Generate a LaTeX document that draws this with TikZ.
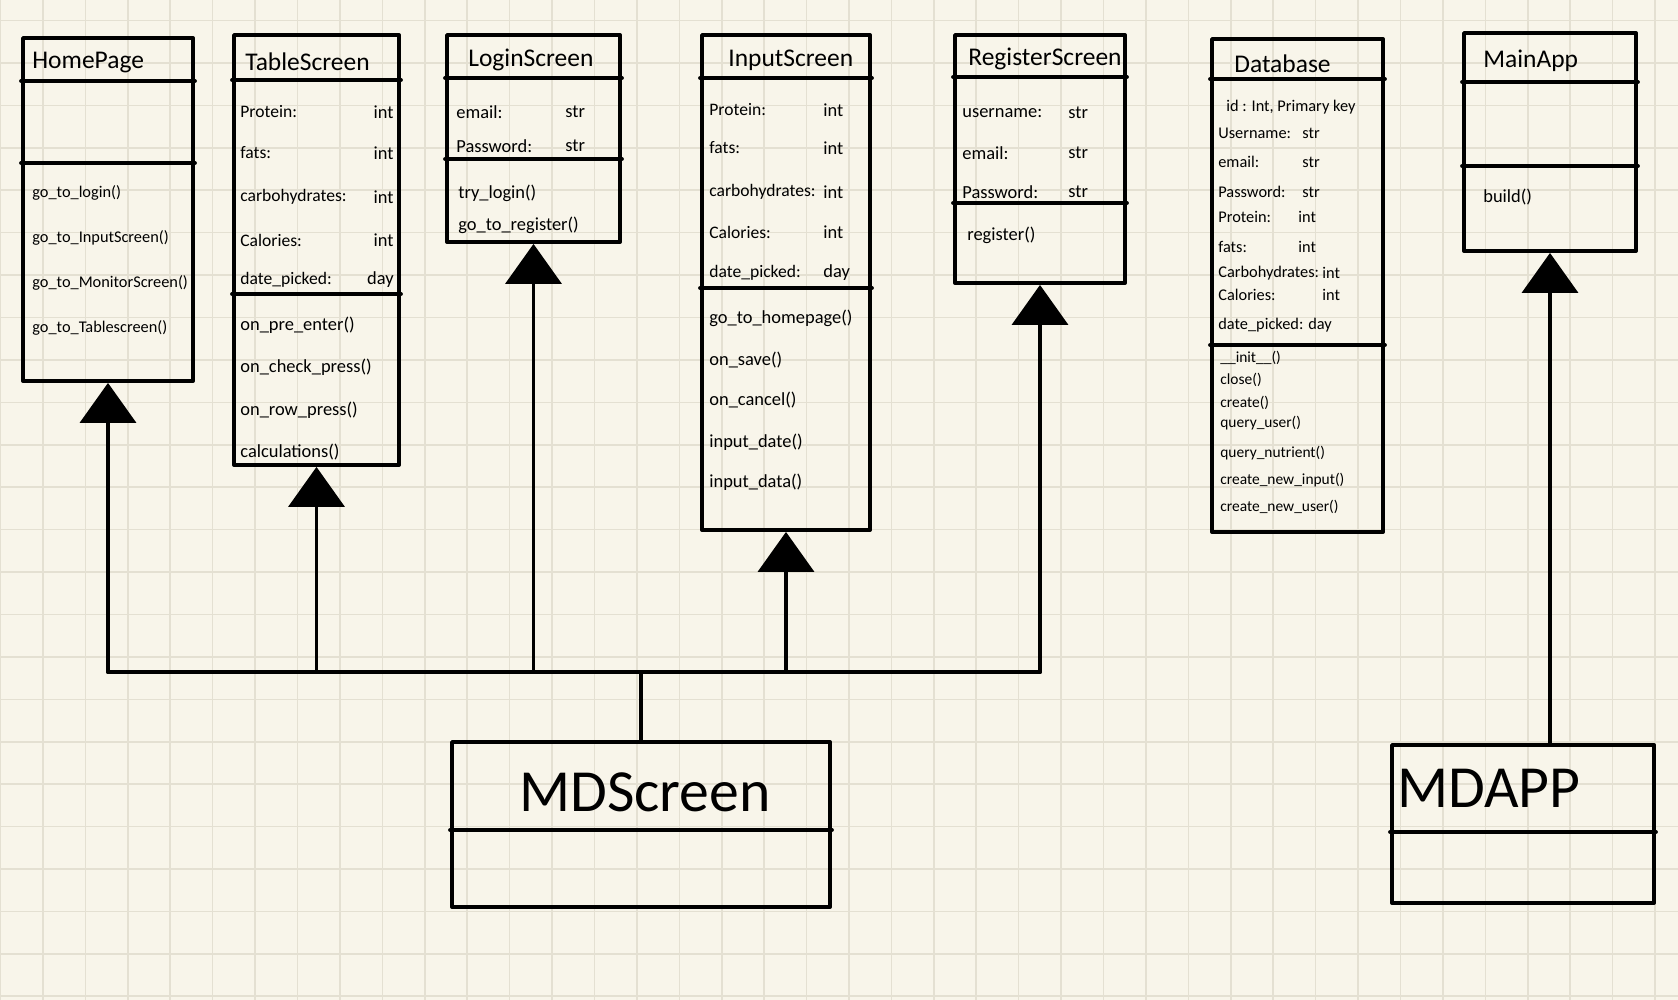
\documentclass[tikz,border=0pt]{standalone}
\usepackage{fontspec}
\setmainfont{Carlito}
\usetikzlibrary{arrows.meta,fit}
\definecolor{paper}{RGB}{248,245,234}
\definecolor{gridc}{RGB}{228,224,210}
\begin{document}
\begin{tikzpicture}[x=0.02cm, y=-0.02cm, line join=round, line cap=round,
	font=\fontsize{10.5}{12}\selectfont,
	cls/.style={draw, line width=2.2pt, inner sep=0pt},
	link/.style={line width=2.2pt},
	inh/.style={link, -{Triangle[width=1.12cm, length=0.8cm]}},
	ttl/.style={anchor=west, inner sep=0pt, font=\fontsize{14.5}{16}\selectfont},
	fld/.style={anchor=west, inner sep=0pt},
	nrw/.style={fld, font=\fontsize{10}{12}\selectfont},
	sml/.style={fld, font=\fontsize{9.3}{10}\selectfont},
	tiny/.style={fld, font=\fontsize{8.8}{10}\selectfont}]
	\fill[paper] (0,0) rectangle (1678,1000);
	\useasboundingbox (0,0) rectangle (1678,1000);
	\foreach \i in {0,...,39}
	\draw[gridc, line width=0.9pt] ({0.6+42.42*\i},0) -- ({0.6+42.42*\i},1000);
	\foreach \j in {0,...,23}
	\draw[gridc, line width=0.9pt] (0,{20.6+42.42*\j}) -- (1678,{20.6+42.42*\j});
	\node[cls, fit={(23,38)(193,381)}] (home) {};
	\node[cls, fit={(234,35)(399,465)}] (table) {};
	\node[cls, fit={(447,35)(620,242)}] (login) {};
	\node[cls, fit={(702,35)(870,530)}] (input) {};
	\node[cls, fit={(955,35)(1125,283)}] (register) {};
	\node[cls, fit={(1212,39)(1383,532)}] (db) {};
	\node[cls, fit={(1464,33)(1636,251)}] (mainapp) {};
	\node[cls, fit={(452,742)(830,907)}] (mdscreen) {};
	\node[cls, fit={(1392,745)(1654,903)}] (mdapp) {};
	\foreach \b/\y in {home/81, home/163, table/80, table/294, login/78, login/159, input/78, input/288, register/77, register/203, db/79, db/345, mainapp/82, mainapp/166, mdscreen/830, mdapp/832}
	\draw[link] (\b.west |- 0,\y) -- (\b.east |- 0,\y);
	\foreach \b/\x/\y/\t in {home/32/63/HomePage, table/245/62/TableScreen, login/468/60/LoginScreen, input/728/60/InputScreen, register/968/59/RegisterScreen, db/1234/64/Database, mainapp/1483/61/MainApp}
	\node[ttl] (\b-ttl) at (\x,\y) {\t};
	\foreach \y/\t [count=\i] in {193/go\_to\_login(), 238/go\_to\_InputScreen(), 283/go\_to\_MonitorScreen(), 328/go\_to\_Tablescreen()}
	\node[sml] (home-m\i) at (32,\y) {\t};
	\foreach \y/\n/\t [count=\i] in {112/Protein:/int, 153/fats:/int, 197/carbohydrates:/int, 240/Calories:/int, 280/date\_picked:/day}{
		\node[nrw] (table-a\i) at (240,\y) {\n};
		\node[fld, anchor=east] (table-t\i) at (394,\y) {\t};
	}
	\foreach \y/\t [count=\i] in {325/on\_pre\_enter(), 367/on\_check\_press(), 410/on\_row\_press(), 452/calculations()}
	\node[fld] (table-m\i) at (240,\y) {\t};
	\foreach \y/\n/\t [count=\i] in {112/email:/str, 146/Password:/str}{
		\node[fld] (login-a\i) at (456,\y) {\n};
		\node[fld] (login-t\i) at (565,\y) {\t};
	}
	\foreach \y/\t [count=\i] in {193/try\_login(), 225/go\_to\_register()}
	\node[fld] (login-m\i) at (458,\y) {\t};
	\foreach \y/\n/\t [count=\i] in {110/Protein:/int, 148/fats:/int, 192/carbohydrates:/int, 232/Calories:/int, 273/date\_picked:/day}{
		\node[nrw] (input-a\i) at (709,\y) {\n};
		\node[fld] (input-t\i) at (823,\y) {\t};
	}
	\foreach \y/\t [count=\i] in {318/go\_to\_homepage(), 360/on\_save(), 400/on\_cancel(), 442/input\_date(), 482/input\_data()}
	\node[fld] (input-m\i) at (709,\y) {\t};
	\foreach \y/\n/\t [count=\i] in {113/username:/str, 153/email:/str, 192/Password:/str}{
		\node[fld] (register-a\i) at (962,\y) {\n};
		\node[fld] (register-t\i) at (1068,\y) {\t};
	}
	\node[fld] (register-m1) at (967,235) {register()};
	\node[sml] (db-a0) at (1226,107) {id : Int, Primary key};
	\foreach \y/\n/\x/\t [count=\i] in {133/Username:/1302/str, 162/email:/1302/str, 192/Password:/1302/str, 217/Protein:/1298/int, 247/fats:/1298/int, 273/Carbohydrates:/1322/int, 295/Calories:/1322/int}{
		\node[sml] (db-a\i) at (1218,\y) {\n};
		\node[sml] (db-t\i) at (\x,\y) {\t};
	}
	\node[sml] (db-a8) at (1218,325) {date\_picked: day};
	\foreach \y/\t [count=\i] in {358/\_\_init\_\_(), 380/close(), 403/create(), 423/query\_user(), 453/query\_nutrient(), 480/create\_new\_input(), 507/create\_new\_user()}
	\node[tiny] (db-m\i) at (1220,\y) {\t};
	\node[fld] (mainapp-m1) at (1483,197) {build()};
	\node[font=\fontsize{34}{38}\selectfont] (mdscreen-ttl) at (645,792) {MDScreen};
	\node[anchor=west, inner sep=0pt, font=\fontsize{34}{38}\selectfont] (mdapp-ttl) at (1397,788) {MDAPP};
	\coordinate (bus) at (637,672);
	\draw[link] (mdscreen.north) -- (mdscreen.north |- bus);
	\draw[link] (bus -| home.south) -- (bus -| register.south);
	\foreach \b in {home, table, login, input, register}
	\draw[inh] (bus -| \b.south) -- (\b.south);
	\draw[inh] (mdapp.north -| mainapp.south) -- (mainapp.south);
\end{tikzpicture}
\end{document}
